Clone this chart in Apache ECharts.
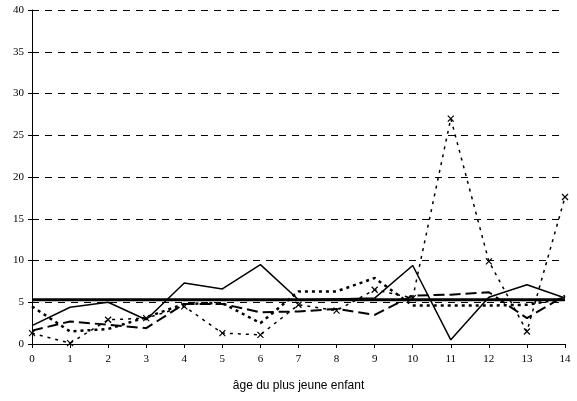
<!DOCTYPE html>
<html><head><meta charset="utf-8">
<script src="https://cdn.jsdelivr.net/npm/echarts@6/dist/echarts.min.js"></script>
<style>html,body{margin:0;padding:0;background:#fff}#c{width:577px;height:401px}</style>
</head><body><div id="c"></div>
<script>
const categories = ['0','1','2','3','4','5','6','7','8','9','10','11','12','13','14'];
const yTicks = [0,5,10,15,20,25,30,35,40];
const solidThin = [2.2,4.4,5.0,2.9,7.3,6.6,9.5,5.3,5.4,5.5,9.4,0.5,5.6,7.1,5.5];
const solidThick = [5.3,5.3,5.3,5.3,5.3,5.3,5.3,5.3,5.3,5.3,5.3,5.3,5.3,5.3,5.3];
const longDash = [1.6,2.7,2.3,1.9,4.8,4.8,3.8,3.9,4.2,3.5,5.8,5.9,6.2,3.1,5.8];
const dottedCross = [1.3,0.1,2.9,3.1,4.5,1.3,1.1,4.7,4.0,6.5,5.5,27.0,9.9,1.5,17.6];
const squareDot = [4.5,1.5,1.8,3.2,4.8,4.9,2.5,6.3,6.3,7.9,4.6,4.6,4.6,4.7,5.5];

const chart = echarts.init(document.getElementById('c'), null, {renderer:'canvas'});
const cross = 'path://M0,0L10,10M10,0L0,10';
chart.setOption({
  animation:false,
  grid:{left:32,right:12,top:10,bottom:57},
  xAxis:{type:'category',data:categories,boundaryGap:false,
    name:'âge du plus jeune enfant',nameLocation:'middle',nameGap:36,
    nameTextStyle:{fontFamily:'Liberation Sans',fontSize:12,color:'#000'},
    axisLine:{lineStyle:{color:'#000',width:1}},
    axisTick:{length:4,lineStyle:{color:'#000'}},
    axisLabel:{fontFamily:'Liberation Serif',fontSize:11,color:'#000',margin:10},
    splitLine:{show:false}},
  yAxis:{type:'value',min:yTicks[0],max:yTicks[yTicks.length-1],interval:5,
    axisLine:{show:true,lineStyle:{color:'#000',width:1}},
    axisTick:{show:true,length:4,lineStyle:{color:'#000'}},
    axisLabel:{fontFamily:'Liberation Serif',fontSize:11,color:'#000',margin:8},
    splitLine:{show:true,lineStyle:{color:'#000',type:[7,6],width:1}}},
  series:[
    {type:'line',data:solidThin,symbol:'none',lineStyle:{color:'#000',width:1.5}},
    {type:'line',data:solidThick,symbol:'none',lineStyle:{color:'#000',width:3}},
    {type:'line',data:longDash,symbol:'none',lineStyle:{color:'#000',width:2,type:[11,5]}},
    {type:'line',data:squareDot,symbol:'none',lineStyle:{color:'#000',width:2.5,type:[3,4]}},
    {type:'line',data:dottedCross,symbol:cross,symbolSize:6,
      itemStyle:{color:'none',borderColor:'#000',borderWidth:1.2},
      lineStyle:{color:'#000',width:1.5,type:[3,5]}}
  ]
});
</script></body></html>
